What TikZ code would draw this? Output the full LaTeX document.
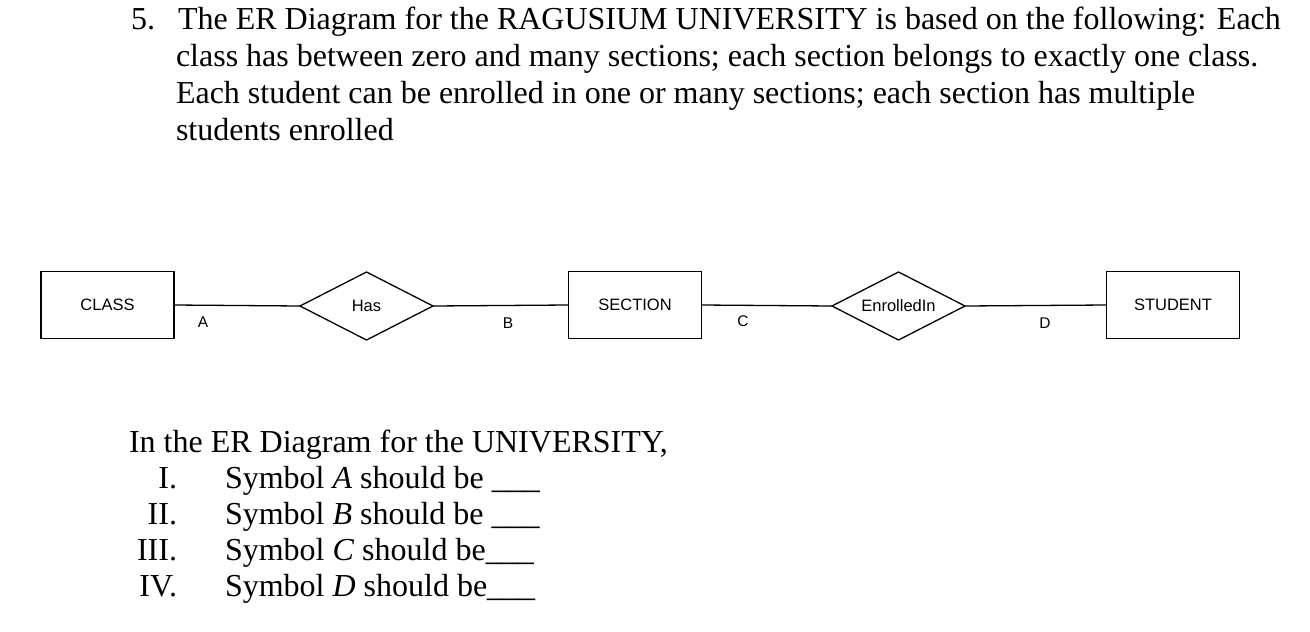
\documentclass[tikz,border=0pt]{standalone}
\usepackage{fontspec}
\setmainfont{Liberation Serif}
\newfontfamily\arialfont{Liberation Sans}
\usetikzlibrary{shapes.geometric}
\begin{document}
\begin{tikzpicture}[x=1pt,y=-1pt,
  every node/.style={inner sep=0pt,outer sep=0pt},
  qtext/.style={anchor=base west,font=\fontsize{32}{37}\selectfont},
  qnum/.style={anchor=base east,font=\fontsize{32}{37}\selectfont},
  entity/.style={draw,line width=1.3pt,minimum width=133pt,minimum height=67pt,font=\arialfont\fontsize{16.5}{19}\selectfont},
  rel/.style={draw,line width=1.3pt,diamond,aspect=2,minimum width=133pt,minimum height=68pt,font=\arialfont\fontsize{16.5}{19}\selectfont},
  card/.style={font=\arialfont\fontsize{15.5}{18}\selectfont},
  conn/.style={line width=1.3pt}]
\useasboundingbox (0,0) rectangle (1310,632);
% question header
\node[qtext] (n5) at (131,29) {5.};
\node[qtext] (l1) at (178,29) {The ER Diagram for the RAGUSIUM UNIVERSITY is based on the following: Each};
\node[qtext] (l2) at (176,66) {class has between zero and many sections; each section belongs to exactly one class.};
\node[qtext] (l3) at (176,103) {Each student can be enrolled in one or many sections; each section has multiple};
\node[qtext] (l4) at (176,140) {students enrolled};
% diagram
\node[entity] (class) at (107.5,305) {CLASS};
\node[rel] (has) at (366.5,306) {Has};
\node[entity] (section) at (635,305) {SECTION};
\node[rel] (enr) at (898.5,306) {EnrolledIn};
\node[entity] (student) at (1173,305) {STUDENT};
\draw[conn] (class.east) -- (has.west);
\draw[conn] (has.east) -- (section.west);
\draw[conn] (section.east) -- (enr.west);
\draw[conn] (enr.east) -- (student.west);
\node[card] (A) at (203,322) {A};
\node[card] (B) at (508,323) {B};
\node[card] (C) at (743,321) {C};
\node[card] (D) at (1045,323) {D};
% questions
\node[qtext] (q0) at (129,452) {In the ER Diagram for the UNIVERSITY,};
\node[qnum] (r1) at (177,488) {I.};
\node[qnum] (r2) at (177,524) {II.};
\node[qnum] (r3) at (177,560) {III.};
\node[qnum] (r4) at (177,596) {IV.};
\node[qtext] (q1) at (225,488) {Symbol \textit{A} should be \_\_\_};
\node[qtext] (q2) at (225,524) {Symbol \textit{B} should be \_\_\_};
\node[qtext] (q3) at (225,560) {Symbol \textit{C} should be\_\_\_};
\node[qtext] (q4) at (225,596) {Symbol \textit{D} should be\_\_\_};
\end{tikzpicture}
\end{document}
